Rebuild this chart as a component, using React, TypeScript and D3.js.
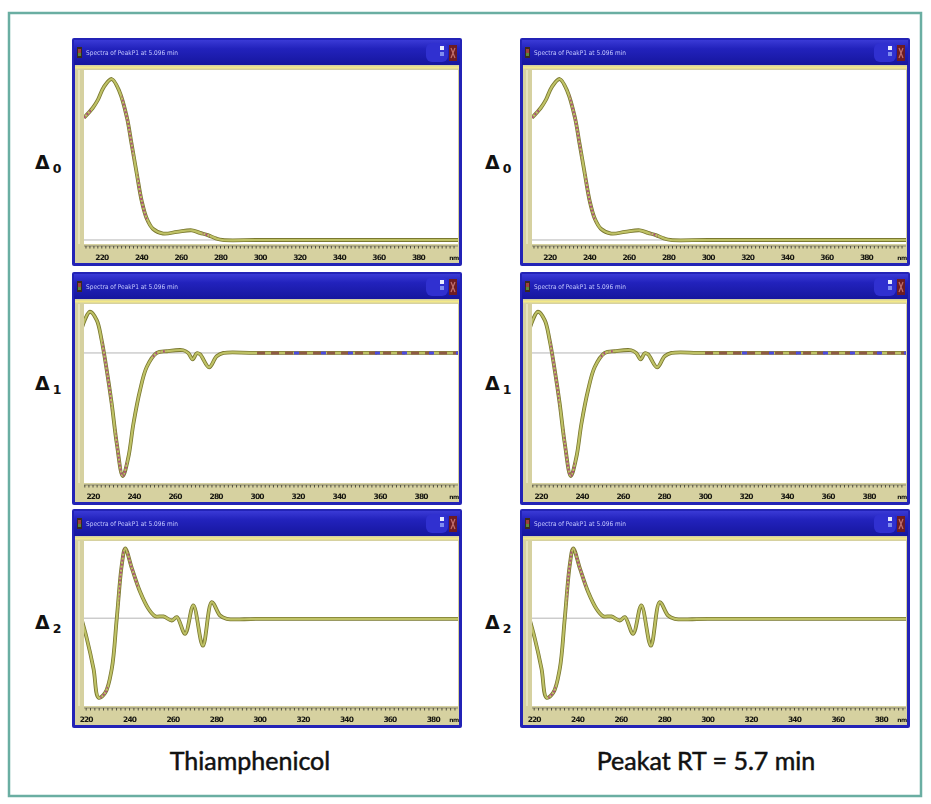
import React from 'react';
import * as d3 from 'd3';

// ---- data -------------------------------------------------------------
const wavelengthTicks = [220, 240, 260, 280, 300, 320, 340, 360, 380];
const axisUnit = 'nm';
const windowTitle = 'Spectra of PeakP1 at 5.096 min';
const columnTitles = ['Thiamphenicol', 'Peakat RT = 5.7 min'];
const orderLabels = ['0', '1', '2'];

// zero-order absorbance spectrum (relative units)
const zeroNm = [211, 215.4, 218, 221, 225, 229, 232.7, 235, 237.7, 240.2, 242.8, 245.8, 251, 258, 265.5, 269.6, 273.6, 278, 281, 300, 340, 400];
const zeroAbs = [76, 82, 87, 95, 100, 92, 76, 60, 41, 24, 13, 7, 4, 5, 6, 4.4, 3, 0.8, 0, 0, 0, 0];

// first-derivative spectrum
const firstNm = [214.5, 218.5, 221.8, 224.2, 226.7, 229.1, 231.6, 234.5, 237.2, 239.7, 242.9, 246.2, 251.1, 256, 264, 266.5, 268.6, 270.6, 272.2, 276.6, 280.3, 283.6, 300, 398];
const firstVal = [20.2, 33.5, 26.7, 10.4, -14.1, -41.1, -73.8, -100, -85, -57.5, -30.5, -11.4, 0, 1.4, 2.2, -0.2, -5.2, -0.2, -1.1, -11.7, -2.7, 0, 0, 0];

// second-derivative spectrum
const secondNm = [217.6, 220.3, 223.4, 225.7, 228.8, 231.8, 234.1, 236.4, 238, 241.1, 244.9, 248.7, 251.8, 255.6, 259.5, 261.8, 265.6, 269.4, 273.8, 277.9, 281.7, 284.8, 300, 392];
const secondVal = [1.3, -25.7, -63.7, -100, -93.7, -63.7, -0.4, 66.7, 87.8, 62.5, 32.9, 11.9, 2.5, 2.2, -2.9, 1.3, -19.7, 16.1, -34.6, 20.3, 3.4, -0.8, -0.8, -0.8];

const spectra = [
  { nm: zeroNm, val: zeroAbs },
  { nm: firstNm, val: firstVal },
  { nm: secondNm, val: secondVal },
];

// ---- layout & style ---------------------------------------------------
const WIDTH = 931;
const HEIGHT = 804;
const WIN_W = 390;
const columnX = [72, 520];
const deltaX = [35, 485];

const rows = [
  { top: 38, h: 228, xDomain: [211, 400], yDomain: [-2.5, 105.6], deltaY: 169 },
  { top: 272, h: 233, xDomain: [215.6, 398], yDomain: [-105.7, 39.8], deltaY: 390 },
  { top: 509, h: 219, xDomain: [219, 391.4], yDomain: [-110.5, 97.1], deltaY: 629 },
];

// stretches of each trace drawn with the magenta dotted overlay
const highlightRanges = [
  [[211, 214.5], [230, 236], [238, 243], [271, 274.5]],
  [[224.5, 229], [231, 236.5], [249, 251.5], [253, 255]],
  [[226.5, 230], [235, 237.5], [239, 244]],
];

const KHAKI = '#d6d1a0';
const FRAME = '#2323b6';

type Pt = [number, number];

function SpectrumWindow({ col, row }: { col: number; row: number }) {
  const r = rows[row];
  const x0 = columnX[col];
  const y0 = r.top;
  const pl = x0 + 12;
  const pr = x0 + 386;
  const pt = y0 + 32;
  const pb = y0 + r.h - 22;
  const axisY = pb + 2;

  const x = d3.scaleLinear().domain(r.xDomain).range([pl, pr]);
  const y = d3.scaleLinear().domain(r.yDomain).range([pb, pt]);
  const s = spectra[row];
  const pts: Pt[] = s.nm.map((n, i) => [n, s.val[i]]);
  const line = d3
    .line<Pt>()
    .x((d) => x(d[0]))
    .y((d) => y(d[1]))
    .curve(d3.curveCatmullRom.alpha(0.5));
  const path = line(pts) || '';

  const id = `w${col}${row}`;
  const minor = d3.range(Math.ceil(r.xDomain[0] / 2) * 2, r.xDomain[1], 2);

  return (
    <g>
      <defs>
        <clipPath id={`${id}-plot`}>
          <rect x={pl} y={pt} width={pr - pl} height={pb - pt} />
        </clipPath>
        {highlightRanges[row].map((rg, i) => (
          <clipPath key={i} id={`${id}-hl${i}`}>
            <rect x={x(rg[0])} y={pt} width={x(rg[1]) - x(rg[0])} height={pb - pt} />
          </clipPath>
        ))}
      </defs>
      {/* window frame */}
      <rect x={x0} y={y0} width={WIN_W} height={r.h} fill={FRAME} rx={2} />
      {/* title bar */}
      <rect x={x0 + 2} y={y0 + 2} width={WIN_W - 4} height={25} fill="url(#titleGrad)" />
      <rect x={x0 + 5} y={y0 + 9} width={5} height={11} fill="#3a2a20" />
      <rect x={x0 + 6} y={y0 + 11} width={3} height={4} fill="#a04040" />
      <rect x={x0 + 6} y={y0 + 15} width={3} height={3} fill="#5a8a3a" />
      <text
        x={x0 + 14}
        y={y0 + 17}
        fontFamily="DejaVu Sans, sans-serif"
        fontSize={6.5}
        fill="#c2c6ff"
        filter="url(#soft)"
        textLength={92}
        lengthAdjust="spacingAndGlyphs"
      >
        {windowTitle}
      </text>
      <rect x={x0 + WIN_W - 36} y={y0 + 5} width={22} height={19} rx={6} fill="#3030d0" />
      <rect x={x0 + WIN_W - 22} y={y0 + 8} width={4} height={4} fill="#e8ecff" />
      <rect x={x0 + WIN_W - 22} y={y0 + 14} width={4} height={4} fill="#7f8cf0" />
      <rect x={x0 + WIN_W - 13} y={y0 + 7} width={8} height={16} fill="#6e1c22" />
      <path
        d={`M${x0 + WIN_W - 11},${y0 + 10} L${x0 + WIN_W - 7},${y0 + 20} M${x0 + WIN_W - 7},${y0 + 10} L${x0 + WIN_W - 11},${y0 + 20}`}
        stroke="#c07070"
        strokeWidth={1.2}
      />
      {/* client area */}
      <rect x={x0 + 3} y={y0 + 27} width={WIN_W - 6} height={r.h - 30} fill={KHAKI} />
      <line x1={x0 + 3} x2={x0 + WIN_W - 3} y1={y0 + 29.5} y2={y0 + 29.5} stroke="#f3e98a" strokeWidth={2} />
      <line x1={x0 + 7} x2={x0 + 7} y1={pt} y2={pb} stroke="#ece8c8" strokeWidth={1.5} />
      {/* plot */}
      <rect x={pl} y={pt} width={pr - pl} height={pb - pt} fill="#ffffff" />
      <line x1={pl} x2={pr} y1={y(0)} y2={y(0)} stroke="#b4b4b4" strokeWidth={1} />
      <g clipPath={`url(#${id}-plot)`}>
        <path d={path} fill="none" stroke="#7a7830" strokeWidth={3.8} strokeLinejoin="round" />
        <path d={path} fill="none" stroke="#bfc266" strokeWidth={2.2} strokeLinejoin="round" />
        {highlightRanges[row].map((rg, i) => (
          <path
            key={i}
            d={path}
            fill="none"
            stroke="#a8407f"
            strokeOpacity={0.85}
            strokeWidth={2.2}
            strokeDasharray="2 2"
            clipPath={`url(#${id}-hl${i})`}
          />
        ))}
        {row === 1 && (
          <g>
            <line x1={x(300)} x2={pr} y1={y(0)} y2={y(0)} stroke="#8e5a44" strokeWidth={3} strokeDasharray="8 6" />
            <line x1={x(318)} x2={pr} y1={y(0)} y2={y(0)} stroke="#4b4be0" strokeWidth={3} strokeDasharray="5 22" />
          </g>
        )}
      </g>
      {/* wavelength axis */}
      <line x1={pl} x2={pr} y1={axisY} y2={axisY} stroke="#8a8870" strokeWidth={1} />
      {minor.map((n) => (
        <line key={n} x1={x(n)} x2={x(n)} y1={axisY} y2={axisY + 2.5} stroke="#4e4d3e" strokeWidth={1} />
      ))}
      <g filter="url(#softer)">
        {wavelengthTicks.map((t) => (
          <text
            key={t}
            x={x(t)}
            y={y0 + r.h - 6}
            textAnchor="middle"
            fontFamily="DejaVu Sans, sans-serif"
            fontWeight="bold"
            fontSize={7.5}
            letterSpacing={-0.9}
            fill="#141410"
          >
            {t}
          </text>
        ))}
        <text
          x={pr - 4}
          y={y0 + r.h - 6}
          textAnchor="middle"
          fontFamily="DejaVu Sans, sans-serif"
          fontWeight="bold"
          fontSize={6}
          letterSpacing={-0.6}
          fill="#141410"
        >
          {axisUnit}
        </text>
      </g>
      {/* order label */}
      <text x={deltaX[col]} y={r.deltaY} fontFamily="DejaVu Sans, sans-serif" fontWeight="bold" fontSize={19} fill="#111">
        Δ
        <tspan fontSize={12.5} dx={3} dy={4}>
          {orderLabels[row]}
        </tspan>
      </text>
    </g>
  );
}

export default function App() {
  return (
    <svg
      width={WIDTH}
      height={HEIGHT}
      viewBox={`0 0 ${WIDTH} ${HEIGHT}`}
      style={{ position: 'absolute', left: 0, top: 0, background: '#fff' }}
    >
      <defs>
        <linearGradient id="titleGrad" x1="0" y1="0" x2="0" y2="1">
          <stop offset="0" stopColor="#3a3ad6" />
          <stop offset="0.35" stopColor="#2222bc" />
          <stop offset="1" stopColor="#16169e" />
        </linearGradient>
        <filter id="soft" x="-10%" y="-30%" width="120%" height="160%">
          <feGaussianBlur stdDeviation="0.45" />
        </filter>
        <filter id="softer" x="-10%" y="-30%" width="120%" height="160%">
          <feGaussianBlur stdDeviation="0.6" />
        </filter>
      </defs>
      <rect x={0} y={0} width={WIDTH} height={HEIGHT} fill="#ffffff" />
      <rect x={9} y={13} width={912} height={783} fill="none" stroke="#6aaea2" strokeWidth={2.5} />
      {[0, 1].map((c) => (
        <g key={c}>
          {[0, 1, 2].map((r) => (
            <SpectrumWindow key={r} col={c} row={r} />
          ))}
        </g>
      ))}
      {columnTitles.map((t, i) => (
        <text
          key={t}
          x={i === 0 ? 250 : 706}
          y={770}
          textAnchor="middle"
          fontFamily="Lato, 'Open Sans', sans-serif"
          fontSize={25}
          fill="#111"
          stroke="#111"
          strokeWidth={0.5}
        >
          {t}
        </text>
      ))}
    </svg>
  );
}
